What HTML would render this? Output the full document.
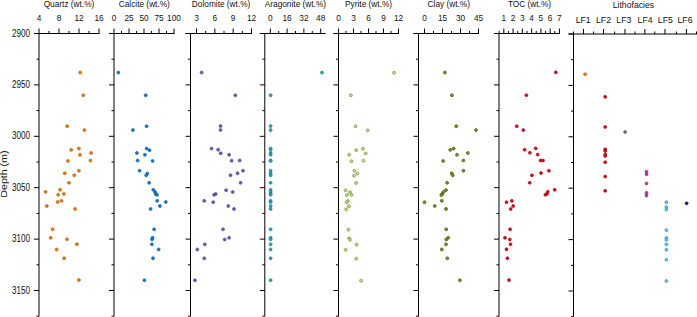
<!DOCTYPE html>
<html><head><meta charset="utf-8"><style>
html,body{margin:0;padding:0;background:#fff;width:697px;height:317px;overflow:hidden}
svg{display:block}
text{font-family:"Liberation Sans", sans-serif;fill:#111}
</style></head><body>
<svg width="697" height="317" viewBox="0 0 697 317">
<line x1="34.00" y1="33.50" x2="99.50" y2="33.50" stroke="#000" stroke-width="1"/>
<line x1="39.00" y1="33.50" x2="39.00" y2="316.20" stroke="#000" stroke-width="1"/>
<line x1="34.00" y1="33.50" x2="39.00" y2="33.50" stroke="#000" stroke-width="1"/>
<line x1="36.50" y1="59.20" x2="39.00" y2="59.20" stroke="#000" stroke-width="1"/>
<line x1="34.00" y1="84.90" x2="39.00" y2="84.90" stroke="#000" stroke-width="1"/>
<line x1="36.50" y1="110.60" x2="39.00" y2="110.60" stroke="#000" stroke-width="1"/>
<line x1="34.00" y1="136.30" x2="39.00" y2="136.30" stroke="#000" stroke-width="1"/>
<line x1="36.50" y1="162.00" x2="39.00" y2="162.00" stroke="#000" stroke-width="1"/>
<line x1="34.00" y1="187.70" x2="39.00" y2="187.70" stroke="#000" stroke-width="1"/>
<line x1="36.50" y1="213.40" x2="39.00" y2="213.40" stroke="#000" stroke-width="1"/>
<line x1="34.00" y1="239.10" x2="39.00" y2="239.10" stroke="#000" stroke-width="1"/>
<line x1="36.50" y1="264.80" x2="39.00" y2="264.80" stroke="#000" stroke-width="1"/>
<line x1="34.00" y1="290.50" x2="39.00" y2="290.50" stroke="#000" stroke-width="1"/>
<line x1="36.50" y1="316.20" x2="39.00" y2="316.20" stroke="#000" stroke-width="1"/>
<line x1="39.00" y1="33.50" x2="39.00" y2="28.50" stroke="#000" stroke-width="1"/>
<text transform="translate(39.00,21.30) scale(1.0,1.14)" font-size="8.3" text-anchor="middle">4</text>
<line x1="49.00" y1="33.50" x2="49.00" y2="31.00" stroke="#000" stroke-width="1"/>
<line x1="59.00" y1="33.50" x2="59.00" y2="28.50" stroke="#000" stroke-width="1"/>
<text transform="translate(59.00,21.30) scale(1.0,1.14)" font-size="8.3" text-anchor="middle">8</text>
<line x1="69.00" y1="33.50" x2="69.00" y2="31.00" stroke="#000" stroke-width="1"/>
<line x1="79.00" y1="33.50" x2="79.00" y2="28.50" stroke="#000" stroke-width="1"/>
<text transform="translate(79.00,21.30) scale(1.0,1.14)" font-size="8.3" text-anchor="middle">12</text>
<line x1="89.00" y1="33.50" x2="89.00" y2="31.00" stroke="#000" stroke-width="1"/>
<line x1="99.00" y1="33.50" x2="99.00" y2="28.50" stroke="#000" stroke-width="1"/>
<text transform="translate(99.00,21.30) scale(1.0,1.14)" font-size="8.3" text-anchor="middle">16</text>
<text x="69.00" y="6.50" font-size="8.3" text-anchor="middle">Quartz (wt.%)</text>
<line x1="109.00" y1="33.50" x2="174.50" y2="33.50" stroke="#000" stroke-width="1"/>
<line x1="114.00" y1="33.50" x2="114.00" y2="316.20" stroke="#000" stroke-width="1"/>
<line x1="109.00" y1="33.50" x2="114.00" y2="33.50" stroke="#000" stroke-width="1"/>
<line x1="111.50" y1="59.20" x2="114.00" y2="59.20" stroke="#000" stroke-width="1"/>
<line x1="109.00" y1="84.90" x2="114.00" y2="84.90" stroke="#000" stroke-width="1"/>
<line x1="111.50" y1="110.60" x2="114.00" y2="110.60" stroke="#000" stroke-width="1"/>
<line x1="109.00" y1="136.30" x2="114.00" y2="136.30" stroke="#000" stroke-width="1"/>
<line x1="111.50" y1="162.00" x2="114.00" y2="162.00" stroke="#000" stroke-width="1"/>
<line x1="109.00" y1="187.70" x2="114.00" y2="187.70" stroke="#000" stroke-width="1"/>
<line x1="111.50" y1="213.40" x2="114.00" y2="213.40" stroke="#000" stroke-width="1"/>
<line x1="109.00" y1="239.10" x2="114.00" y2="239.10" stroke="#000" stroke-width="1"/>
<line x1="111.50" y1="264.80" x2="114.00" y2="264.80" stroke="#000" stroke-width="1"/>
<line x1="109.00" y1="290.50" x2="114.00" y2="290.50" stroke="#000" stroke-width="1"/>
<line x1="111.50" y1="316.20" x2="114.00" y2="316.20" stroke="#000" stroke-width="1"/>
<line x1="114.00" y1="33.50" x2="114.00" y2="28.50" stroke="#000" stroke-width="1"/>
<text transform="translate(114.00,21.30) scale(1.0,1.14)" font-size="8.3" text-anchor="middle">0</text>
<line x1="121.50" y1="33.50" x2="121.50" y2="31.00" stroke="#000" stroke-width="1"/>
<line x1="129.00" y1="33.50" x2="129.00" y2="28.50" stroke="#000" stroke-width="1"/>
<text transform="translate(129.00,21.30) scale(1.0,1.14)" font-size="8.3" text-anchor="middle">25</text>
<line x1="136.50" y1="33.50" x2="136.50" y2="31.00" stroke="#000" stroke-width="1"/>
<line x1="144.00" y1="33.50" x2="144.00" y2="28.50" stroke="#000" stroke-width="1"/>
<text transform="translate(144.00,21.30) scale(1.0,1.14)" font-size="8.3" text-anchor="middle">50</text>
<line x1="151.50" y1="33.50" x2="151.50" y2="31.00" stroke="#000" stroke-width="1"/>
<line x1="159.00" y1="33.50" x2="159.00" y2="28.50" stroke="#000" stroke-width="1"/>
<text transform="translate(159.00,21.30) scale(1.0,1.14)" font-size="8.3" text-anchor="middle">75</text>
<line x1="166.50" y1="33.50" x2="166.50" y2="31.00" stroke="#000" stroke-width="1"/>
<line x1="174.00" y1="33.50" x2="174.00" y2="28.50" stroke="#000" stroke-width="1"/>
<text transform="translate(174.00,21.30) scale(1.0,1.14)" font-size="8.3" text-anchor="middle">100</text>
<text x="144.30" y="6.50" font-size="8.3" text-anchor="middle">Calcite (wt.%)</text>
<line x1="185.50" y1="33.50" x2="252.00" y2="33.50" stroke="#000" stroke-width="1"/>
<line x1="190.50" y1="33.50" x2="190.50" y2="316.20" stroke="#000" stroke-width="1"/>
<line x1="185.50" y1="33.50" x2="190.50" y2="33.50" stroke="#000" stroke-width="1"/>
<line x1="188.00" y1="59.20" x2="190.50" y2="59.20" stroke="#000" stroke-width="1"/>
<line x1="185.50" y1="84.90" x2="190.50" y2="84.90" stroke="#000" stroke-width="1"/>
<line x1="188.00" y1="110.60" x2="190.50" y2="110.60" stroke="#000" stroke-width="1"/>
<line x1="185.50" y1="136.30" x2="190.50" y2="136.30" stroke="#000" stroke-width="1"/>
<line x1="188.00" y1="162.00" x2="190.50" y2="162.00" stroke="#000" stroke-width="1"/>
<line x1="185.50" y1="187.70" x2="190.50" y2="187.70" stroke="#000" stroke-width="1"/>
<line x1="188.00" y1="213.40" x2="190.50" y2="213.40" stroke="#000" stroke-width="1"/>
<line x1="185.50" y1="239.10" x2="190.50" y2="239.10" stroke="#000" stroke-width="1"/>
<line x1="188.00" y1="264.80" x2="190.50" y2="264.80" stroke="#000" stroke-width="1"/>
<line x1="185.50" y1="290.50" x2="190.50" y2="290.50" stroke="#000" stroke-width="1"/>
<line x1="188.00" y1="316.20" x2="190.50" y2="316.20" stroke="#000" stroke-width="1"/>
<line x1="196.50" y1="33.50" x2="196.50" y2="28.50" stroke="#000" stroke-width="1"/>
<text transform="translate(196.50,21.30) scale(1.0,1.14)" font-size="8.3" text-anchor="middle">3</text>
<line x1="205.67" y1="33.50" x2="205.67" y2="31.00" stroke="#000" stroke-width="1"/>
<line x1="214.83" y1="33.50" x2="214.83" y2="28.50" stroke="#000" stroke-width="1"/>
<text transform="translate(214.83,21.30) scale(1.0,1.14)" font-size="8.3" text-anchor="middle">6</text>
<line x1="224.00" y1="33.50" x2="224.00" y2="31.00" stroke="#000" stroke-width="1"/>
<line x1="233.17" y1="33.50" x2="233.17" y2="28.50" stroke="#000" stroke-width="1"/>
<text transform="translate(233.17,21.30) scale(1.0,1.14)" font-size="8.3" text-anchor="middle">9</text>
<line x1="242.33" y1="33.50" x2="242.33" y2="31.00" stroke="#000" stroke-width="1"/>
<line x1="251.50" y1="33.50" x2="251.50" y2="28.50" stroke="#000" stroke-width="1"/>
<text transform="translate(251.50,21.30) scale(1.0,1.14)" font-size="8.3" text-anchor="middle">12</text>
<text x="221.10" y="6.50" font-size="8.3" text-anchor="middle">Dolomite (wt.%)</text>
<line x1="259.80" y1="33.50" x2="325.80" y2="33.50" stroke="#000" stroke-width="1"/>
<line x1="264.80" y1="33.50" x2="264.80" y2="316.20" stroke="#000" stroke-width="1"/>
<line x1="259.80" y1="33.50" x2="264.80" y2="33.50" stroke="#000" stroke-width="1"/>
<line x1="262.30" y1="59.20" x2="264.80" y2="59.20" stroke="#000" stroke-width="1"/>
<line x1="259.80" y1="84.90" x2="264.80" y2="84.90" stroke="#000" stroke-width="1"/>
<line x1="262.30" y1="110.60" x2="264.80" y2="110.60" stroke="#000" stroke-width="1"/>
<line x1="259.80" y1="136.30" x2="264.80" y2="136.30" stroke="#000" stroke-width="1"/>
<line x1="262.30" y1="162.00" x2="264.80" y2="162.00" stroke="#000" stroke-width="1"/>
<line x1="259.80" y1="187.70" x2="264.80" y2="187.70" stroke="#000" stroke-width="1"/>
<line x1="262.30" y1="213.40" x2="264.80" y2="213.40" stroke="#000" stroke-width="1"/>
<line x1="259.80" y1="239.10" x2="264.80" y2="239.10" stroke="#000" stroke-width="1"/>
<line x1="262.30" y1="264.80" x2="264.80" y2="264.80" stroke="#000" stroke-width="1"/>
<line x1="259.80" y1="290.50" x2="264.80" y2="290.50" stroke="#000" stroke-width="1"/>
<line x1="262.30" y1="316.20" x2="264.80" y2="316.20" stroke="#000" stroke-width="1"/>
<line x1="270.30" y1="33.50" x2="270.30" y2="28.50" stroke="#000" stroke-width="1"/>
<text transform="translate(270.30,21.30) scale(1.0,1.14)" font-size="8.3" text-anchor="middle">0</text>
<line x1="278.70" y1="33.50" x2="278.70" y2="31.00" stroke="#000" stroke-width="1"/>
<line x1="287.10" y1="33.50" x2="287.10" y2="28.50" stroke="#000" stroke-width="1"/>
<text transform="translate(287.10,21.30) scale(1.0,1.14)" font-size="8.3" text-anchor="middle">16</text>
<line x1="295.50" y1="33.50" x2="295.50" y2="31.00" stroke="#000" stroke-width="1"/>
<line x1="303.90" y1="33.50" x2="303.90" y2="28.50" stroke="#000" stroke-width="1"/>
<text transform="translate(303.90,21.30) scale(1.0,1.14)" font-size="8.3" text-anchor="middle">32</text>
<line x1="312.30" y1="33.50" x2="312.30" y2="31.00" stroke="#000" stroke-width="1"/>
<line x1="320.70" y1="33.50" x2="320.70" y2="28.50" stroke="#000" stroke-width="1"/>
<text transform="translate(320.70,21.30) scale(1.0,1.14)" font-size="8.3" text-anchor="middle">48</text>
<text x="295.40" y="6.50" font-size="8.3" text-anchor="middle">Aragonite (wt.%)</text>
<line x1="333.50" y1="33.50" x2="399.00" y2="33.50" stroke="#000" stroke-width="1"/>
<line x1="338.50" y1="33.50" x2="338.50" y2="316.20" stroke="#000" stroke-width="1"/>
<line x1="333.50" y1="33.50" x2="338.50" y2="33.50" stroke="#000" stroke-width="1"/>
<line x1="336.00" y1="59.20" x2="338.50" y2="59.20" stroke="#000" stroke-width="1"/>
<line x1="333.50" y1="84.90" x2="338.50" y2="84.90" stroke="#000" stroke-width="1"/>
<line x1="336.00" y1="110.60" x2="338.50" y2="110.60" stroke="#000" stroke-width="1"/>
<line x1="333.50" y1="136.30" x2="338.50" y2="136.30" stroke="#000" stroke-width="1"/>
<line x1="336.00" y1="162.00" x2="338.50" y2="162.00" stroke="#000" stroke-width="1"/>
<line x1="333.50" y1="187.70" x2="338.50" y2="187.70" stroke="#000" stroke-width="1"/>
<line x1="336.00" y1="213.40" x2="338.50" y2="213.40" stroke="#000" stroke-width="1"/>
<line x1="333.50" y1="239.10" x2="338.50" y2="239.10" stroke="#000" stroke-width="1"/>
<line x1="336.00" y1="264.80" x2="338.50" y2="264.80" stroke="#000" stroke-width="1"/>
<line x1="333.50" y1="290.50" x2="338.50" y2="290.50" stroke="#000" stroke-width="1"/>
<line x1="336.00" y1="316.20" x2="338.50" y2="316.20" stroke="#000" stroke-width="1"/>
<line x1="338.50" y1="33.50" x2="338.50" y2="28.50" stroke="#000" stroke-width="1"/>
<text transform="translate(338.50,21.30) scale(1.0,1.14)" font-size="8.3" text-anchor="middle">0</text>
<line x1="346.00" y1="33.50" x2="346.00" y2="31.00" stroke="#000" stroke-width="1"/>
<line x1="353.50" y1="33.50" x2="353.50" y2="28.50" stroke="#000" stroke-width="1"/>
<text transform="translate(353.50,21.30) scale(1.0,1.14)" font-size="8.3" text-anchor="middle">3</text>
<line x1="361.00" y1="33.50" x2="361.00" y2="31.00" stroke="#000" stroke-width="1"/>
<line x1="368.50" y1="33.50" x2="368.50" y2="28.50" stroke="#000" stroke-width="1"/>
<text transform="translate(368.50,21.30) scale(1.0,1.14)" font-size="8.3" text-anchor="middle">6</text>
<line x1="376.00" y1="33.50" x2="376.00" y2="31.00" stroke="#000" stroke-width="1"/>
<line x1="383.50" y1="33.50" x2="383.50" y2="28.50" stroke="#000" stroke-width="1"/>
<text transform="translate(383.50,21.30) scale(1.0,1.14)" font-size="8.3" text-anchor="middle">9</text>
<line x1="391.00" y1="33.50" x2="391.00" y2="31.00" stroke="#000" stroke-width="1"/>
<line x1="398.50" y1="33.50" x2="398.50" y2="28.50" stroke="#000" stroke-width="1"/>
<text transform="translate(398.50,21.30) scale(1.0,1.14)" font-size="8.3" text-anchor="middle">12</text>
<text x="368.60" y="6.50" font-size="8.3" text-anchor="middle">Pyrite (wt.%)</text>
<line x1="413.50" y1="33.50" x2="479.00" y2="33.50" stroke="#000" stroke-width="1"/>
<line x1="418.50" y1="33.50" x2="418.50" y2="316.20" stroke="#000" stroke-width="1"/>
<line x1="413.50" y1="33.50" x2="418.50" y2="33.50" stroke="#000" stroke-width="1"/>
<line x1="416.00" y1="59.20" x2="418.50" y2="59.20" stroke="#000" stroke-width="1"/>
<line x1="413.50" y1="84.90" x2="418.50" y2="84.90" stroke="#000" stroke-width="1"/>
<line x1="416.00" y1="110.60" x2="418.50" y2="110.60" stroke="#000" stroke-width="1"/>
<line x1="413.50" y1="136.30" x2="418.50" y2="136.30" stroke="#000" stroke-width="1"/>
<line x1="416.00" y1="162.00" x2="418.50" y2="162.00" stroke="#000" stroke-width="1"/>
<line x1="413.50" y1="187.70" x2="418.50" y2="187.70" stroke="#000" stroke-width="1"/>
<line x1="416.00" y1="213.40" x2="418.50" y2="213.40" stroke="#000" stroke-width="1"/>
<line x1="413.50" y1="239.10" x2="418.50" y2="239.10" stroke="#000" stroke-width="1"/>
<line x1="416.00" y1="264.80" x2="418.50" y2="264.80" stroke="#000" stroke-width="1"/>
<line x1="413.50" y1="290.50" x2="418.50" y2="290.50" stroke="#000" stroke-width="1"/>
<line x1="416.00" y1="316.20" x2="418.50" y2="316.20" stroke="#000" stroke-width="1"/>
<line x1="424.50" y1="33.50" x2="424.50" y2="28.50" stroke="#000" stroke-width="1"/>
<text transform="translate(424.50,21.30) scale(1.0,1.14)" font-size="8.3" text-anchor="middle">0</text>
<line x1="433.50" y1="33.50" x2="433.50" y2="31.00" stroke="#000" stroke-width="1"/>
<line x1="442.50" y1="33.50" x2="442.50" y2="28.50" stroke="#000" stroke-width="1"/>
<text transform="translate(442.50,21.30) scale(1.0,1.14)" font-size="8.3" text-anchor="middle">15</text>
<line x1="451.50" y1="33.50" x2="451.50" y2="31.00" stroke="#000" stroke-width="1"/>
<line x1="460.50" y1="33.50" x2="460.50" y2="28.50" stroke="#000" stroke-width="1"/>
<text transform="translate(460.50,21.30) scale(1.0,1.14)" font-size="8.3" text-anchor="middle">30</text>
<line x1="469.50" y1="33.50" x2="469.50" y2="31.00" stroke="#000" stroke-width="1"/>
<line x1="478.50" y1="33.50" x2="478.50" y2="28.50" stroke="#000" stroke-width="1"/>
<text transform="translate(478.50,21.30) scale(1.0,1.14)" font-size="8.3" text-anchor="middle">45</text>
<text x="448.80" y="6.50" font-size="8.3" text-anchor="middle">Clay (wt.%)</text>
<line x1="494.00" y1="33.50" x2="559.90" y2="33.50" stroke="#000" stroke-width="1"/>
<line x1="499.00" y1="33.50" x2="499.00" y2="316.20" stroke="#000" stroke-width="1"/>
<line x1="494.00" y1="33.50" x2="499.00" y2="33.50" stroke="#000" stroke-width="1"/>
<line x1="496.50" y1="59.20" x2="499.00" y2="59.20" stroke="#000" stroke-width="1"/>
<line x1="494.00" y1="84.90" x2="499.00" y2="84.90" stroke="#000" stroke-width="1"/>
<line x1="496.50" y1="110.60" x2="499.00" y2="110.60" stroke="#000" stroke-width="1"/>
<line x1="494.00" y1="136.30" x2="499.00" y2="136.30" stroke="#000" stroke-width="1"/>
<line x1="496.50" y1="162.00" x2="499.00" y2="162.00" stroke="#000" stroke-width="1"/>
<line x1="494.00" y1="187.70" x2="499.00" y2="187.70" stroke="#000" stroke-width="1"/>
<line x1="496.50" y1="213.40" x2="499.00" y2="213.40" stroke="#000" stroke-width="1"/>
<line x1="494.00" y1="239.10" x2="499.00" y2="239.10" stroke="#000" stroke-width="1"/>
<line x1="496.50" y1="264.80" x2="499.00" y2="264.80" stroke="#000" stroke-width="1"/>
<line x1="494.00" y1="290.50" x2="499.00" y2="290.50" stroke="#000" stroke-width="1"/>
<line x1="496.50" y1="316.20" x2="499.00" y2="316.20" stroke="#000" stroke-width="1"/>
<line x1="499.20" y1="33.50" x2="499.20" y2="31.00" stroke="#000" stroke-width="1"/>
<line x1="503.80" y1="33.50" x2="503.80" y2="28.50" stroke="#000" stroke-width="1"/>
<text transform="translate(503.80,21.30) scale(1.0,1.14)" font-size="8.3" text-anchor="middle">1</text>
<line x1="508.44" y1="33.50" x2="508.44" y2="31.00" stroke="#000" stroke-width="1"/>
<line x1="513.07" y1="33.50" x2="513.07" y2="28.50" stroke="#000" stroke-width="1"/>
<text transform="translate(513.07,21.30) scale(1.0,1.14)" font-size="8.3" text-anchor="middle">2</text>
<line x1="517.71" y1="33.50" x2="517.71" y2="31.00" stroke="#000" stroke-width="1"/>
<line x1="522.34" y1="33.50" x2="522.34" y2="28.50" stroke="#000" stroke-width="1"/>
<text transform="translate(522.34,21.30) scale(1.0,1.14)" font-size="8.3" text-anchor="middle">3</text>
<line x1="526.98" y1="33.50" x2="526.98" y2="31.00" stroke="#000" stroke-width="1"/>
<line x1="531.61" y1="33.50" x2="531.61" y2="28.50" stroke="#000" stroke-width="1"/>
<text transform="translate(531.61,21.30) scale(1.0,1.14)" font-size="8.3" text-anchor="middle">4</text>
<line x1="536.25" y1="33.50" x2="536.25" y2="31.00" stroke="#000" stroke-width="1"/>
<line x1="540.88" y1="33.50" x2="540.88" y2="28.50" stroke="#000" stroke-width="1"/>
<text transform="translate(540.88,21.30) scale(1.0,1.14)" font-size="8.3" text-anchor="middle">5</text>
<line x1="545.51" y1="33.50" x2="545.51" y2="31.00" stroke="#000" stroke-width="1"/>
<line x1="550.15" y1="33.50" x2="550.15" y2="28.50" stroke="#000" stroke-width="1"/>
<text transform="translate(550.15,21.30) scale(1.0,1.14)" font-size="8.3" text-anchor="middle">6</text>
<line x1="554.78" y1="33.50" x2="554.78" y2="31.00" stroke="#000" stroke-width="1"/>
<line x1="559.42" y1="33.50" x2="559.42" y2="28.50" stroke="#000" stroke-width="1"/>
<text transform="translate(559.42,21.30) scale(1.0,1.14)" font-size="8.3" text-anchor="middle">7</text>
<text x="529.50" y="6.50" font-size="8.3" text-anchor="middle">TOC (wt.%)</text>
<line x1="568.50" y1="34.00" x2="697.50" y2="34.00" stroke="#000" stroke-width="1"/>
<line x1="573.50" y1="34.00" x2="573.50" y2="316.70" stroke="#000" stroke-width="1"/>
<line x1="568.50" y1="34.00" x2="573.50" y2="34.00" stroke="#000" stroke-width="1"/>
<line x1="571.00" y1="59.70" x2="573.50" y2="59.70" stroke="#000" stroke-width="1"/>
<line x1="568.50" y1="85.40" x2="573.50" y2="85.40" stroke="#000" stroke-width="1"/>
<line x1="571.00" y1="111.10" x2="573.50" y2="111.10" stroke="#000" stroke-width="1"/>
<line x1="568.50" y1="136.80" x2="573.50" y2="136.80" stroke="#000" stroke-width="1"/>
<line x1="571.00" y1="162.50" x2="573.50" y2="162.50" stroke="#000" stroke-width="1"/>
<line x1="568.50" y1="188.20" x2="573.50" y2="188.20" stroke="#000" stroke-width="1"/>
<line x1="571.00" y1="213.90" x2="573.50" y2="213.90" stroke="#000" stroke-width="1"/>
<line x1="568.50" y1="239.60" x2="573.50" y2="239.60" stroke="#000" stroke-width="1"/>
<line x1="571.00" y1="265.30" x2="573.50" y2="265.30" stroke="#000" stroke-width="1"/>
<line x1="568.50" y1="291.00" x2="573.50" y2="291.00" stroke="#000" stroke-width="1"/>
<line x1="571.00" y1="316.70" x2="573.50" y2="316.70" stroke="#000" stroke-width="1"/>
<line x1="583.50" y1="34.00" x2="583.50" y2="29.00" stroke="#000" stroke-width="1"/>
<line x1="603.50" y1="34.00" x2="603.50" y2="29.00" stroke="#000" stroke-width="1"/>
<line x1="625.00" y1="34.00" x2="625.00" y2="29.00" stroke="#000" stroke-width="1"/>
<line x1="644.90" y1="34.00" x2="644.90" y2="29.00" stroke="#000" stroke-width="1"/>
<line x1="665.00" y1="34.00" x2="665.00" y2="29.00" stroke="#000" stroke-width="1"/>
<line x1="686.40" y1="34.00" x2="686.40" y2="29.00" stroke="#000" stroke-width="1"/>
<line x1="573.50" y1="34.00" x2="573.50" y2="31.50" stroke="#000" stroke-width="1"/>
<line x1="593.55" y1="34.00" x2="593.55" y2="31.50" stroke="#000" stroke-width="1"/>
<line x1="614.60" y1="34.00" x2="614.60" y2="31.50" stroke="#000" stroke-width="1"/>
<line x1="634.90" y1="34.00" x2="634.90" y2="31.50" stroke="#000" stroke-width="1"/>
<line x1="654.80" y1="34.00" x2="654.80" y2="31.50" stroke="#000" stroke-width="1"/>
<line x1="676.40" y1="34.00" x2="676.40" y2="31.50" stroke="#000" stroke-width="1"/>
<line x1="696.50" y1="34.00" x2="696.50" y2="31.50" stroke="#000" stroke-width="1"/>
<text x="633.40" y="7.90" font-size="8.7" text-anchor="middle">Lithofacies</text>
<text x="583.20" y="22.50" font-size="8.7" text-anchor="middle">LF1</text>
<text x="603.50" y="22.50" font-size="8.7" text-anchor="middle">LF2</text>
<text x="623.80" y="22.50" font-size="8.7" text-anchor="middle">LF3</text>
<text x="645.10" y="22.50" font-size="8.7" text-anchor="middle">LF4</text>
<text x="665.30" y="22.50" font-size="8.7" text-anchor="middle">LF5</text>
<text x="685.00" y="22.50" font-size="8.7" text-anchor="middle">LF6</text>
<text transform="translate(30.00,36.55) scale(0.975,1.25)" font-size="8.3" text-anchor="end">2900</text>
<text transform="translate(30.00,87.95) scale(0.975,1.25)" font-size="8.3" text-anchor="end">2950</text>
<text transform="translate(30.00,139.35) scale(0.975,1.25)" font-size="8.3" text-anchor="end">3000</text>
<text transform="translate(30.00,190.75) scale(0.975,1.25)" font-size="8.3" text-anchor="end">3050</text>
<text transform="translate(30.00,242.15) scale(0.975,1.25)" font-size="8.3" text-anchor="end">3100</text>
<text transform="translate(30.00,293.55) scale(0.975,1.25)" font-size="8.3" text-anchor="end">3150</text>
<text transform="translate(7.0,174.1) rotate(-90) scale(1.22,1)" font-size="8.7" text-anchor="middle">Depth (m)</text>
<circle cx="80.20" cy="72.55" r="1.5" fill="#f0800c" stroke="#a4560c" stroke-width="0.6"/>
<circle cx="83.30" cy="95.15" r="1.5" fill="#f0800c" stroke="#a4560c" stroke-width="0.6"/>
<circle cx="67.20" cy="126.15" r="1.5" fill="#f0800c" stroke="#a4560c" stroke-width="0.6"/>
<circle cx="84.40" cy="130.05" r="1.5" fill="#f0800c" stroke="#a4560c" stroke-width="0.6"/>
<circle cx="71.20" cy="149.85" r="1.5" fill="#f0800c" stroke="#a4560c" stroke-width="0.6"/>
<circle cx="78.90" cy="148.55" r="1.5" fill="#f0800c" stroke="#a4560c" stroke-width="0.6"/>
<circle cx="80.00" cy="154.75" r="1.5" fill="#f0800c" stroke="#a4560c" stroke-width="0.6"/>
<circle cx="91.10" cy="152.95" r="1.5" fill="#f0800c" stroke="#a4560c" stroke-width="0.6"/>
<circle cx="67.90" cy="160.95" r="1.5" fill="#f0800c" stroke="#a4560c" stroke-width="0.6"/>
<circle cx="90.40" cy="160.45" r="1.5" fill="#f0800c" stroke="#a4560c" stroke-width="0.6"/>
<circle cx="78.90" cy="170.65" r="1.5" fill="#f0800c" stroke="#a4560c" stroke-width="0.6"/>
<circle cx="64.80" cy="173.25" r="1.5" fill="#f0800c" stroke="#a4560c" stroke-width="0.6"/>
<circle cx="74.30" cy="175.25" r="1.5" fill="#f0800c" stroke="#a4560c" stroke-width="0.6"/>
<circle cx="69.00" cy="182.75" r="1.5" fill="#f0800c" stroke="#a4560c" stroke-width="0.6"/>
<circle cx="45.60" cy="191.85" r="1.5" fill="#f0800c" stroke="#a4560c" stroke-width="0.6"/>
<circle cx="60.10" cy="189.75" r="1.5" fill="#f0800c" stroke="#a4560c" stroke-width="0.6"/>
<circle cx="58.10" cy="194.65" r="1.5" fill="#f0800c" stroke="#a4560c" stroke-width="0.6"/>
<circle cx="63.80" cy="193.95" r="1.5" fill="#f0800c" stroke="#a4560c" stroke-width="0.6"/>
<circle cx="57.70" cy="201.95" r="1.5" fill="#f0800c" stroke="#a4560c" stroke-width="0.6"/>
<circle cx="61.50" cy="200.85" r="1.5" fill="#f0800c" stroke="#a4560c" stroke-width="0.6"/>
<circle cx="46.90" cy="205.95" r="1.5" fill="#f0800c" stroke="#a4560c" stroke-width="0.6"/>
<circle cx="75.20" cy="208.95" r="1.5" fill="#f0800c" stroke="#a4560c" stroke-width="0.6"/>
<circle cx="52.60" cy="229.35" r="1.5" fill="#f0800c" stroke="#a4560c" stroke-width="0.6"/>
<circle cx="50.70" cy="237.75" r="1.5" fill="#f0800c" stroke="#a4560c" stroke-width="0.6"/>
<circle cx="67.00" cy="239.25" r="1.5" fill="#f0800c" stroke="#a4560c" stroke-width="0.6"/>
<circle cx="76.90" cy="244.15" r="1.5" fill="#f0800c" stroke="#a4560c" stroke-width="0.6"/>
<circle cx="56.60" cy="249.45" r="1.5" fill="#f0800c" stroke="#a4560c" stroke-width="0.6"/>
<circle cx="64.10" cy="258.15" r="1.5" fill="#f0800c" stroke="#a4560c" stroke-width="0.6"/>
<circle cx="78.90" cy="280.05" r="1.5" fill="#f0800c" stroke="#a4560c" stroke-width="0.6"/>
<circle cx="118.30" cy="72.55" r="1.5" fill="#167ccc" stroke="#0a56a0" stroke-width="0.6"/>
<circle cx="145.70" cy="95.25" r="1.5" fill="#167ccc" stroke="#0a56a0" stroke-width="0.6"/>
<circle cx="146.60" cy="126.15" r="1.5" fill="#167ccc" stroke="#0a56a0" stroke-width="0.6"/>
<circle cx="132.90" cy="130.05" r="1.5" fill="#167ccc" stroke="#0a56a0" stroke-width="0.6"/>
<circle cx="146.60" cy="148.55" r="1.5" fill="#167ccc" stroke="#0a56a0" stroke-width="0.6"/>
<circle cx="149.50" cy="150.15" r="1.5" fill="#167ccc" stroke="#0a56a0" stroke-width="0.6"/>
<circle cx="136.90" cy="152.95" r="1.5" fill="#167ccc" stroke="#0a56a0" stroke-width="0.6"/>
<circle cx="144.90" cy="154.75" r="1.5" fill="#167ccc" stroke="#0a56a0" stroke-width="0.6"/>
<circle cx="137.60" cy="160.45" r="1.5" fill="#167ccc" stroke="#0a56a0" stroke-width="0.6"/>
<circle cx="152.60" cy="160.95" r="1.5" fill="#167ccc" stroke="#0a56a0" stroke-width="0.6"/>
<circle cx="139.60" cy="170.65" r="1.5" fill="#167ccc" stroke="#0a56a0" stroke-width="0.6"/>
<circle cx="147.30" cy="173.55" r="1.5" fill="#167ccc" stroke="#0a56a0" stroke-width="0.6"/>
<circle cx="146.20" cy="175.25" r="1.5" fill="#167ccc" stroke="#0a56a0" stroke-width="0.6"/>
<circle cx="149.10" cy="182.75" r="1.5" fill="#167ccc" stroke="#0a56a0" stroke-width="0.6"/>
<circle cx="153.30" cy="189.75" r="1.5" fill="#167ccc" stroke="#0a56a0" stroke-width="0.6"/>
<circle cx="155.00" cy="191.95" r="1.5" fill="#167ccc" stroke="#0a56a0" stroke-width="0.6"/>
<circle cx="155.70" cy="193.95" r="1.5" fill="#167ccc" stroke="#0a56a0" stroke-width="0.6"/>
<circle cx="157.00" cy="194.85" r="1.5" fill="#167ccc" stroke="#0a56a0" stroke-width="0.6"/>
<circle cx="157.20" cy="200.85" r="1.5" fill="#167ccc" stroke="#0a56a0" stroke-width="0.6"/>
<circle cx="165.80" cy="201.95" r="1.5" fill="#167ccc" stroke="#0a56a0" stroke-width="0.6"/>
<circle cx="159.90" cy="205.95" r="1.5" fill="#167ccc" stroke="#0a56a0" stroke-width="0.6"/>
<circle cx="150.60" cy="208.95" r="1.5" fill="#167ccc" stroke="#0a56a0" stroke-width="0.6"/>
<circle cx="154.10" cy="229.35" r="1.5" fill="#167ccc" stroke="#0a56a0" stroke-width="0.6"/>
<circle cx="152.60" cy="237.75" r="1.5" fill="#167ccc" stroke="#0a56a0" stroke-width="0.6"/>
<circle cx="152.10" cy="239.25" r="1.5" fill="#167ccc" stroke="#0a56a0" stroke-width="0.6"/>
<circle cx="151.90" cy="244.35" r="1.5" fill="#167ccc" stroke="#0a56a0" stroke-width="0.6"/>
<circle cx="158.60" cy="249.45" r="1.5" fill="#167ccc" stroke="#0a56a0" stroke-width="0.6"/>
<circle cx="153.00" cy="258.15" r="1.5" fill="#167ccc" stroke="#0a56a0" stroke-width="0.6"/>
<circle cx="144.40" cy="280.25" r="1.5" fill="#167ccc" stroke="#0a56a0" stroke-width="0.6"/>
<circle cx="201.60" cy="72.55" r="1.5" fill="#6860b8" stroke="#443c8c" stroke-width="0.6"/>
<circle cx="235.30" cy="95.25" r="1.5" fill="#6860b8" stroke="#443c8c" stroke-width="0.6"/>
<circle cx="220.50" cy="126.05" r="1.5" fill="#6860b8" stroke="#443c8c" stroke-width="0.6"/>
<circle cx="220.50" cy="129.95" r="1.5" fill="#6860b8" stroke="#443c8c" stroke-width="0.6"/>
<circle cx="211.50" cy="148.55" r="1.5" fill="#6860b8" stroke="#443c8c" stroke-width="0.6"/>
<circle cx="218.10" cy="149.65" r="1.5" fill="#6860b8" stroke="#443c8c" stroke-width="0.6"/>
<circle cx="220.70" cy="153.15" r="1.5" fill="#6860b8" stroke="#443c8c" stroke-width="0.6"/>
<circle cx="229.10" cy="154.75" r="1.5" fill="#6860b8" stroke="#443c8c" stroke-width="0.6"/>
<circle cx="231.60" cy="160.65" r="1.5" fill="#6860b8" stroke="#443c8c" stroke-width="0.6"/>
<circle cx="239.70" cy="160.45" r="1.5" fill="#6860b8" stroke="#443c8c" stroke-width="0.6"/>
<circle cx="243.00" cy="170.65" r="1.5" fill="#6860b8" stroke="#443c8c" stroke-width="0.6"/>
<circle cx="237.50" cy="173.25" r="1.5" fill="#6860b8" stroke="#443c8c" stroke-width="0.6"/>
<circle cx="230.50" cy="175.25" r="1.5" fill="#6860b8" stroke="#443c8c" stroke-width="0.6"/>
<circle cx="240.60" cy="182.75" r="1.5" fill="#6860b8" stroke="#443c8c" stroke-width="0.6"/>
<circle cx="226.10" cy="190.15" r="1.5" fill="#6860b8" stroke="#443c8c" stroke-width="0.6"/>
<circle cx="232.70" cy="191.95" r="1.5" fill="#6860b8" stroke="#443c8c" stroke-width="0.6"/>
<circle cx="215.70" cy="193.95" r="1.5" fill="#6860b8" stroke="#443c8c" stroke-width="0.6"/>
<circle cx="214.10" cy="194.85" r="1.5" fill="#6860b8" stroke="#443c8c" stroke-width="0.6"/>
<circle cx="204.20" cy="200.85" r="1.5" fill="#6860b8" stroke="#443c8c" stroke-width="0.6"/>
<circle cx="213.20" cy="202.15" r="1.5" fill="#6860b8" stroke="#443c8c" stroke-width="0.6"/>
<circle cx="228.30" cy="205.95" r="1.5" fill="#6860b8" stroke="#443c8c" stroke-width="0.6"/>
<circle cx="234.00" cy="208.95" r="1.5" fill="#6860b8" stroke="#443c8c" stroke-width="0.6"/>
<circle cx="223.00" cy="229.35" r="1.5" fill="#6860b8" stroke="#443c8c" stroke-width="0.6"/>
<circle cx="229.10" cy="237.75" r="1.5" fill="#6860b8" stroke="#443c8c" stroke-width="0.6"/>
<circle cx="224.70" cy="239.45" r="1.5" fill="#6860b8" stroke="#443c8c" stroke-width="0.6"/>
<circle cx="204.80" cy="244.35" r="1.5" fill="#6860b8" stroke="#443c8c" stroke-width="0.6"/>
<circle cx="197.30" cy="249.45" r="1.5" fill="#6860b8" stroke="#443c8c" stroke-width="0.6"/>
<circle cx="204.20" cy="258.35" r="1.5" fill="#6860b8" stroke="#443c8c" stroke-width="0.6"/>
<circle cx="194.90" cy="280.25" r="1.5" fill="#6860b8" stroke="#443c8c" stroke-width="0.6"/>
<circle cx="322.00" cy="72.55" r="1.5" fill="#30a8bc" stroke="#1a6a7c" stroke-width="0.6"/>
<circle cx="270.60" cy="95.25" r="1.5" fill="#30a8bc" stroke="#1a6a7c" stroke-width="0.6"/>
<circle cx="270.60" cy="126.05" r="1.5" fill="#30a8bc" stroke="#1a6a7c" stroke-width="0.6"/>
<circle cx="270.60" cy="130.05" r="1.5" fill="#30a8bc" stroke="#1a6a7c" stroke-width="0.6"/>
<circle cx="270.60" cy="148.55" r="1.5" fill="#30a8bc" stroke="#1a6a7c" stroke-width="0.6"/>
<circle cx="270.60" cy="149.85" r="1.5" fill="#30a8bc" stroke="#1a6a7c" stroke-width="0.6"/>
<circle cx="270.60" cy="152.95" r="1.5" fill="#30a8bc" stroke="#1a6a7c" stroke-width="0.6"/>
<circle cx="270.60" cy="154.75" r="1.5" fill="#30a8bc" stroke="#1a6a7c" stroke-width="0.6"/>
<circle cx="270.60" cy="160.45" r="1.5" fill="#30a8bc" stroke="#1a6a7c" stroke-width="0.6"/>
<circle cx="270.60" cy="160.95" r="1.5" fill="#30a8bc" stroke="#1a6a7c" stroke-width="0.6"/>
<circle cx="270.60" cy="170.65" r="1.5" fill="#30a8bc" stroke="#1a6a7c" stroke-width="0.6"/>
<circle cx="270.60" cy="173.25" r="1.5" fill="#30a8bc" stroke="#1a6a7c" stroke-width="0.6"/>
<circle cx="270.60" cy="175.25" r="1.5" fill="#30a8bc" stroke="#1a6a7c" stroke-width="0.6"/>
<circle cx="270.60" cy="182.75" r="1.5" fill="#30a8bc" stroke="#1a6a7c" stroke-width="0.6"/>
<circle cx="270.60" cy="189.85" r="1.5" fill="#30a8bc" stroke="#1a6a7c" stroke-width="0.6"/>
<circle cx="270.60" cy="191.85" r="1.5" fill="#30a8bc" stroke="#1a6a7c" stroke-width="0.6"/>
<circle cx="270.60" cy="193.95" r="1.5" fill="#30a8bc" stroke="#1a6a7c" stroke-width="0.6"/>
<circle cx="270.60" cy="194.75" r="1.5" fill="#30a8bc" stroke="#1a6a7c" stroke-width="0.6"/>
<circle cx="270.60" cy="200.85" r="1.5" fill="#30a8bc" stroke="#1a6a7c" stroke-width="0.6"/>
<circle cx="270.60" cy="202.05" r="1.5" fill="#30a8bc" stroke="#1a6a7c" stroke-width="0.6"/>
<circle cx="270.60" cy="205.95" r="1.5" fill="#30a8bc" stroke="#1a6a7c" stroke-width="0.6"/>
<circle cx="270.60" cy="208.95" r="1.5" fill="#30a8bc" stroke="#1a6a7c" stroke-width="0.6"/>
<circle cx="270.60" cy="229.35" r="1.5" fill="#30a8bc" stroke="#1a6a7c" stroke-width="0.6"/>
<circle cx="270.60" cy="237.75" r="1.5" fill="#30a8bc" stroke="#1a6a7c" stroke-width="0.6"/>
<circle cx="270.60" cy="239.35" r="1.5" fill="#30a8bc" stroke="#1a6a7c" stroke-width="0.6"/>
<circle cx="270.60" cy="244.25" r="1.5" fill="#30a8bc" stroke="#1a6a7c" stroke-width="0.6"/>
<circle cx="270.60" cy="249.45" r="1.5" fill="#30a8bc" stroke="#1a6a7c" stroke-width="0.6"/>
<circle cx="270.60" cy="258.25" r="1.5" fill="#30a8bc" stroke="#1a6a7c" stroke-width="0.6"/>
<circle cx="270.60" cy="280.15" r="1.5" fill="#30a8bc" stroke="#1a6a7c" stroke-width="0.6"/>
<circle cx="394.10" cy="72.75" r="1.5" fill="#c2e080" stroke="#6a8234" stroke-width="0.6"/>
<circle cx="350.90" cy="95.35" r="1.5" fill="#c2e080" stroke="#6a8234" stroke-width="0.6"/>
<circle cx="355.50" cy="126.35" r="1.5" fill="#c2e080" stroke="#6a8234" stroke-width="0.6"/>
<circle cx="367.60" cy="130.35" r="1.5" fill="#c2e080" stroke="#6a8234" stroke-width="0.6"/>
<circle cx="363.00" cy="148.75" r="1.5" fill="#c2e080" stroke="#6a8234" stroke-width="0.6"/>
<circle cx="356.20" cy="150.15" r="1.5" fill="#c2e080" stroke="#6a8234" stroke-width="0.6"/>
<circle cx="365.70" cy="153.45" r="1.5" fill="#c2e080" stroke="#6a8234" stroke-width="0.6"/>
<circle cx="349.10" cy="154.75" r="1.5" fill="#c2e080" stroke="#6a8234" stroke-width="0.6"/>
<circle cx="363.50" cy="160.65" r="1.5" fill="#c2e080" stroke="#6a8234" stroke-width="0.6"/>
<circle cx="351.50" cy="161.15" r="1.5" fill="#c2e080" stroke="#6a8234" stroke-width="0.6"/>
<circle cx="354.40" cy="170.85" r="1.5" fill="#c2e080" stroke="#6a8234" stroke-width="0.6"/>
<circle cx="357.50" cy="173.55" r="1.5" fill="#c2e080" stroke="#6a8234" stroke-width="0.6"/>
<circle cx="354.00" cy="175.65" r="1.5" fill="#c2e080" stroke="#6a8234" stroke-width="0.6"/>
<circle cx="356.20" cy="182.95" r="1.5" fill="#c2e080" stroke="#6a8234" stroke-width="0.6"/>
<circle cx="345.60" cy="190.35" r="1.5" fill="#c2e080" stroke="#6a8234" stroke-width="0.6"/>
<circle cx="350.00" cy="192.25" r="1.5" fill="#c2e080" stroke="#6a8234" stroke-width="0.6"/>
<circle cx="351.50" cy="194.85" r="1.5" fill="#c2e080" stroke="#6a8234" stroke-width="0.6"/>
<circle cx="346.90" cy="195.05" r="1.5" fill="#c2e080" stroke="#6a8234" stroke-width="0.6"/>
<circle cx="347.80" cy="201.05" r="1.5" fill="#c2e080" stroke="#6a8234" stroke-width="0.6"/>
<circle cx="346.50" cy="202.35" r="1.5" fill="#c2e080" stroke="#6a8234" stroke-width="0.6"/>
<circle cx="348.90" cy="206.15" r="1.5" fill="#c2e080" stroke="#6a8234" stroke-width="0.6"/>
<circle cx="346.20" cy="209.35" r="1.5" fill="#c2e080" stroke="#6a8234" stroke-width="0.6"/>
<circle cx="348.40" cy="229.65" r="1.5" fill="#c2e080" stroke="#6a8234" stroke-width="0.6"/>
<circle cx="349.10" cy="238.15" r="1.5" fill="#c2e080" stroke="#6a8234" stroke-width="0.6"/>
<circle cx="350.00" cy="239.75" r="1.5" fill="#c2e080" stroke="#6a8234" stroke-width="0.6"/>
<circle cx="356.60" cy="244.55" r="1.5" fill="#c2e080" stroke="#6a8234" stroke-width="0.6"/>
<circle cx="345.60" cy="249.85" r="1.5" fill="#c2e080" stroke="#6a8234" stroke-width="0.6"/>
<circle cx="356.20" cy="258.65" r="1.5" fill="#c2e080" stroke="#6a8234" stroke-width="0.6"/>
<circle cx="361.00" cy="280.65" r="1.5" fill="#c2e080" stroke="#6a8234" stroke-width="0.6"/>
<circle cx="444.90" cy="72.55" r="1.5" fill="#84901a" stroke="#3e4410" stroke-width="0.6"/>
<circle cx="451.90" cy="95.25" r="1.5" fill="#84901a" stroke="#3e4410" stroke-width="0.6"/>
<circle cx="456.30" cy="126.15" r="1.5" fill="#84901a" stroke="#3e4410" stroke-width="0.6"/>
<circle cx="476.00" cy="130.05" r="1.5" fill="#84901a" stroke="#3e4410" stroke-width="0.6"/>
<circle cx="453.70" cy="148.55" r="1.5" fill="#84901a" stroke="#3e4410" stroke-width="0.6"/>
<circle cx="450.20" cy="149.85" r="1.5" fill="#84901a" stroke="#3e4410" stroke-width="0.6"/>
<circle cx="467.80" cy="152.95" r="1.5" fill="#84901a" stroke="#3e4410" stroke-width="0.6"/>
<circle cx="457.00" cy="154.75" r="1.5" fill="#84901a" stroke="#3e4410" stroke-width="0.6"/>
<circle cx="463.40" cy="160.45" r="1.5" fill="#84901a" stroke="#3e4410" stroke-width="0.6"/>
<circle cx="443.10" cy="160.95" r="1.5" fill="#84901a" stroke="#3e4410" stroke-width="0.6"/>
<circle cx="463.40" cy="170.75" r="1.5" fill="#84901a" stroke="#3e4410" stroke-width="0.6"/>
<circle cx="451.70" cy="173.25" r="1.5" fill="#84901a" stroke="#3e4410" stroke-width="0.6"/>
<circle cx="452.80" cy="175.25" r="1.5" fill="#84901a" stroke="#3e4410" stroke-width="0.6"/>
<circle cx="447.10" cy="182.75" r="1.5" fill="#84901a" stroke="#3e4410" stroke-width="0.6"/>
<circle cx="446.00" cy="190.05" r="1.5" fill="#84901a" stroke="#3e4410" stroke-width="0.6"/>
<circle cx="443.50" cy="191.95" r="1.5" fill="#84901a" stroke="#3e4410" stroke-width="0.6"/>
<circle cx="442.20" cy="193.95" r="1.5" fill="#84901a" stroke="#3e4410" stroke-width="0.6"/>
<circle cx="441.30" cy="195.05" r="1.5" fill="#84901a" stroke="#3e4410" stroke-width="0.6"/>
<circle cx="441.80" cy="200.85" r="1.5" fill="#84901a" stroke="#3e4410" stroke-width="0.6"/>
<circle cx="424.50" cy="202.15" r="1.5" fill="#84901a" stroke="#3e4410" stroke-width="0.6"/>
<circle cx="434.70" cy="205.95" r="1.5" fill="#84901a" stroke="#3e4410" stroke-width="0.6"/>
<circle cx="446.00" cy="208.95" r="1.5" fill="#84901a" stroke="#3e4410" stroke-width="0.6"/>
<circle cx="446.20" cy="229.35" r="1.5" fill="#84901a" stroke="#3e4410" stroke-width="0.6"/>
<circle cx="448.20" cy="237.75" r="1.5" fill="#84901a" stroke="#3e4410" stroke-width="0.6"/>
<circle cx="446.20" cy="239.45" r="1.5" fill="#84901a" stroke="#3e4410" stroke-width="0.6"/>
<circle cx="446.00" cy="244.35" r="1.5" fill="#84901a" stroke="#3e4410" stroke-width="0.6"/>
<circle cx="441.80" cy="249.45" r="1.5" fill="#84901a" stroke="#3e4410" stroke-width="0.6"/>
<circle cx="447.30" cy="258.35" r="1.5" fill="#84901a" stroke="#3e4410" stroke-width="0.6"/>
<circle cx="459.90" cy="280.25" r="1.5" fill="#84901a" stroke="#3e4410" stroke-width="0.6"/>
<circle cx="555.80" cy="72.35" r="1.5" fill="#dc0c1c" stroke="#a0000e" stroke-width="0.6"/>
<circle cx="526.40" cy="95.15" r="1.5" fill="#dc0c1c" stroke="#a0000e" stroke-width="0.6"/>
<circle cx="516.70" cy="126.15" r="1.5" fill="#dc0c1c" stroke="#a0000e" stroke-width="0.6"/>
<circle cx="523.30" cy="130.05" r="1.5" fill="#dc0c1c" stroke="#a0000e" stroke-width="0.6"/>
<circle cx="535.70" cy="148.35" r="1.5" fill="#dc0c1c" stroke="#a0000e" stroke-width="0.6"/>
<circle cx="524.60" cy="149.65" r="1.5" fill="#dc0c1c" stroke="#a0000e" stroke-width="0.6"/>
<circle cx="529.90" cy="152.75" r="1.5" fill="#dc0c1c" stroke="#a0000e" stroke-width="0.6"/>
<circle cx="537.70" cy="154.55" r="1.5" fill="#dc0c1c" stroke="#a0000e" stroke-width="0.6"/>
<circle cx="540.50" cy="160.45" r="1.5" fill="#dc0c1c" stroke="#a0000e" stroke-width="0.6"/>
<circle cx="543.00" cy="160.45" r="1.5" fill="#dc0c1c" stroke="#a0000e" stroke-width="0.6"/>
<circle cx="548.90" cy="170.65" r="1.5" fill="#dc0c1c" stroke="#a0000e" stroke-width="0.6"/>
<circle cx="541.00" cy="173.05" r="1.5" fill="#dc0c1c" stroke="#a0000e" stroke-width="0.6"/>
<circle cx="531.90" cy="175.25" r="1.5" fill="#dc0c1c" stroke="#a0000e" stroke-width="0.6"/>
<circle cx="529.70" cy="182.75" r="1.5" fill="#dc0c1c" stroke="#a0000e" stroke-width="0.6"/>
<circle cx="554.70" cy="189.75" r="1.5" fill="#dc0c1c" stroke="#a0000e" stroke-width="0.6"/>
<circle cx="547.80" cy="191.75" r="1.5" fill="#dc0c1c" stroke="#a0000e" stroke-width="0.6"/>
<circle cx="546.80" cy="193.95" r="1.5" fill="#dc0c1c" stroke="#a0000e" stroke-width="0.6"/>
<circle cx="545.40" cy="194.65" r="1.5" fill="#dc0c1c" stroke="#a0000e" stroke-width="0.6"/>
<circle cx="511.80" cy="200.85" r="1.5" fill="#dc0c1c" stroke="#a0000e" stroke-width="0.6"/>
<circle cx="506.50" cy="202.15" r="1.5" fill="#dc0c1c" stroke="#a0000e" stroke-width="0.6"/>
<circle cx="513.20" cy="205.95" r="1.5" fill="#dc0c1c" stroke="#a0000e" stroke-width="0.6"/>
<circle cx="510.70" cy="208.95" r="1.5" fill="#dc0c1c" stroke="#a0000e" stroke-width="0.6"/>
<circle cx="510.10" cy="229.35" r="1.5" fill="#dc0c1c" stroke="#a0000e" stroke-width="0.6"/>
<circle cx="505.00" cy="237.75" r="1.5" fill="#dc0c1c" stroke="#a0000e" stroke-width="0.6"/>
<circle cx="509.80" cy="239.45" r="1.5" fill="#dc0c1c" stroke="#a0000e" stroke-width="0.6"/>
<circle cx="510.50" cy="244.15" r="1.5" fill="#dc0c1c" stroke="#a0000e" stroke-width="0.6"/>
<circle cx="506.50" cy="249.25" r="1.5" fill="#dc0c1c" stroke="#a0000e" stroke-width="0.6"/>
<circle cx="507.40" cy="258.15" r="1.5" fill="#dc0c1c" stroke="#a0000e" stroke-width="0.6"/>
<circle cx="509.00" cy="280.05" r="1.5" fill="#dc0c1c" stroke="#a0000e" stroke-width="0.6"/>
<circle cx="585.10" cy="74.25" r="1.5" fill="#f08518" stroke="#b05a10" stroke-width="0.6"/>
<circle cx="605.20" cy="96.85" r="1.5" fill="#dc0c1c" stroke="#a0000e" stroke-width="0.6"/>
<circle cx="605.20" cy="126.95" r="1.5" fill="#dc0c1c" stroke="#a0000e" stroke-width="0.6"/>
<circle cx="605.20" cy="149.25" r="1.5" fill="#dc0c1c" stroke="#a0000e" stroke-width="0.6"/>
<circle cx="605.20" cy="150.95" r="1.5" fill="#dc0c1c" stroke="#a0000e" stroke-width="0.6"/>
<circle cx="605.20" cy="154.45" r="1.5" fill="#dc0c1c" stroke="#a0000e" stroke-width="0.6"/>
<circle cx="605.20" cy="155.95" r="1.5" fill="#dc0c1c" stroke="#a0000e" stroke-width="0.6"/>
<circle cx="605.20" cy="162.15" r="1.5" fill="#dc0c1c" stroke="#a0000e" stroke-width="0.6"/>
<circle cx="605.20" cy="176.55" r="1.5" fill="#dc0c1c" stroke="#a0000e" stroke-width="0.6"/>
<circle cx="605.20" cy="190.85" r="1.5" fill="#dc0c1c" stroke="#a0000e" stroke-width="0.6"/>
<circle cx="625.10" cy="131.95" r="1.5" fill="#807870" stroke="#584c58" stroke-width="0.6"/>
<circle cx="646.50" cy="171.75" r="1.5" fill="#c0389a" stroke="#803080" stroke-width="0.6"/>
<circle cx="646.50" cy="174.15" r="1.5" fill="#c0389a" stroke="#803080" stroke-width="0.6"/>
<circle cx="646.50" cy="183.45" r="1.5" fill="#c0389a" stroke="#803080" stroke-width="0.6"/>
<circle cx="646.50" cy="192.85" r="1.5" fill="#c0389a" stroke="#803080" stroke-width="0.6"/>
<circle cx="646.50" cy="195.55" r="1.5" fill="#c0389a" stroke="#803080" stroke-width="0.6"/>
<circle cx="666.40" cy="202.15" r="1.5" fill="#66bee0" stroke="#3a88b8" stroke-width="0.6"/>
<circle cx="666.40" cy="207.15" r="1.5" fill="#66bee0" stroke="#3a88b8" stroke-width="0.6"/>
<circle cx="666.40" cy="209.55" r="1.5" fill="#66bee0" stroke="#3a88b8" stroke-width="0.6"/>
<circle cx="666.40" cy="230.15" r="1.5" fill="#66bee0" stroke="#3a88b8" stroke-width="0.6"/>
<circle cx="666.40" cy="237.85" r="1.5" fill="#66bee0" stroke="#3a88b8" stroke-width="0.6"/>
<circle cx="666.40" cy="239.85" r="1.5" fill="#66bee0" stroke="#3a88b8" stroke-width="0.6"/>
<circle cx="666.40" cy="244.35" r="1.5" fill="#66bee0" stroke="#3a88b8" stroke-width="0.6"/>
<circle cx="666.40" cy="249.75" r="1.5" fill="#66bee0" stroke="#3a88b8" stroke-width="0.6"/>
<circle cx="666.40" cy="259.65" r="1.5" fill="#66bee0" stroke="#3a88b8" stroke-width="0.6"/>
<circle cx="666.40" cy="280.95" r="1.5" fill="#66bee0" stroke="#3a88b8" stroke-width="0.6"/>
<circle cx="686.60" cy="203.35" r="1.5" fill="#141890" stroke="#0c0c60" stroke-width="0.6"/>
</svg>
</body></html>
